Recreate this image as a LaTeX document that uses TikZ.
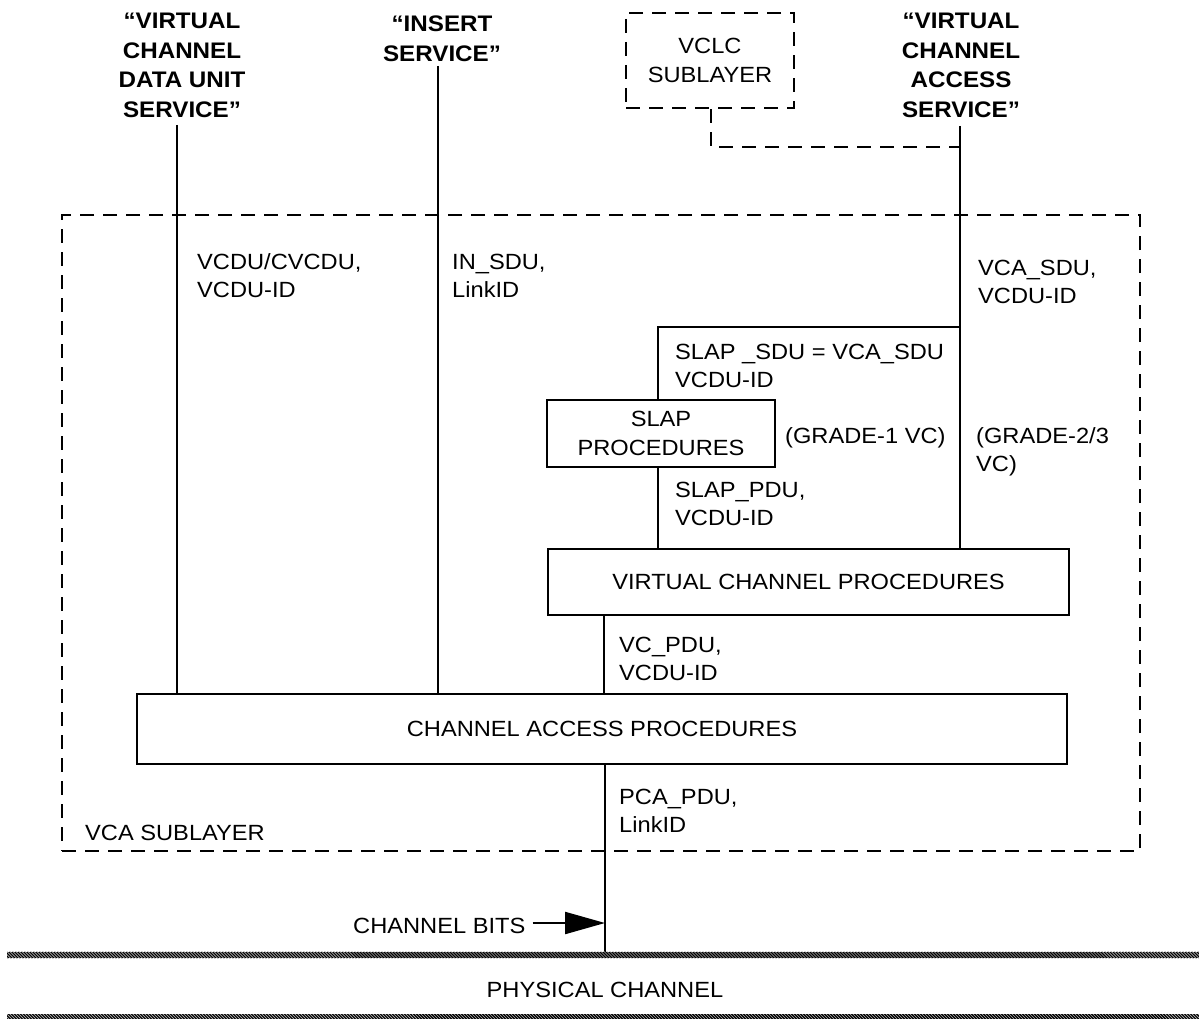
\documentclass[tikz,border=0pt]{standalone}
\usepackage{fontspec}
\setmainfont{Liberation Sans}[FakeStretch=1.075]
\usetikzlibrary{arrows.meta}

% text settings: plain labels and bold service names
\newcommand\lblfont{\fontsize{22}{28.5}\selectfont}
\newcommand\svcfont{\fontsize{22.5}{29.5}\selectfont\bfseries}

\tikzset{
  x=1pt, y=-1pt,
  wire/.style={line width=2.2pt},
  dashline/.style={line width=2.6pt, dash pattern=on 14pt off 9pt},
  procbox/.style={draw, line width=2.2pt, inner sep=0pt, font=\lblfont, align=center},
  layerbox/.style={draw, dashline, inner sep=0pt, font=\lblfont, align=center},
  lbl/.style={font=\lblfont, align=left, anchor=north west, inner sep=0pt},
  svc/.style={font=\svcfont, align=center, anchor=north, inner sep=0pt},
}

\begin{document}
\begin{tikzpicture}
\useasboundingbox (0,0) rectangle (1199,1019);

% service access points (bold titles)
\node[svc] (vcdus) at (182,8) {\strut“VIRTUAL\\CHANNEL\\DATA UNIT\\SERVICE”};
\node[svc] (inss)  at (442,11) {\strut“INSERT\\SERVICE”};
\node[svc] (vcas)  at (961,8) {\strut“VIRTUAL\\CHANNEL\\ACCESS\\SERVICE”};

% VCLC sublayer above
\node[layerbox, minimum width=168pt, minimum height=95pt] (vclc) at (710,60.5) {VCLC\\SUBLAYER};

% VCA sublayer frame
\node[layerbox, minimum width=1078pt, minimum height=636pt] (vcasub) at (601,533) {};
\node[lbl] (vcalbl) at (85,820) {\strut VCA SUBLAYER};

% procedure boxes
\node[procbox, minimum width=228pt, minimum height=67pt] (slap) at (661,433.5) {SLAP\\PROCEDURES};
\node[procbox, minimum width=521pt, minimum height=66pt] (vcp) at (808.5,582) {VIRTUAL CHANNEL PROCEDURES};
\node[procbox, minimum width=930pt, minimum height=70pt] (cap) at (602,729) {CHANNEL ACCESS PROCEDURES};

% connector anchor points
\coordinate (vcduTop) at (177,125);
\coordinate (insTop) at (438,66);
\coordinate (vcaTop) at (960,126);
\coordinate (vcaSlap) at (960,327);
\coordinate (slapTurn) at (658,327);
\coordinate (vclcTurn) at (711,147);
\coordinate (vclcJoin) at (960,147);
\coordinate (vcOut) at (604,615);
\coordinate (physTop) at (605,952);
\coordinate (bitsEnd) at (605,923);

% connectors
\draw[wire] (vcduTop) -- (vcduTop |- cap.north);
\draw[wire] (insTop) -- (insTop |- cap.north);
\draw[wire] (vcaTop) -- (vcaTop |- vcp.north);
\draw[wire] (vcaSlap) -- (slapTurn) -- (slapTurn |- slap.north);
\draw[wire] (slapTurn |- slap.south) -- (slapTurn |- vcp.north);
\draw[wire] (vcOut |- vcp.south) -- (vcOut |- cap.north);
\draw[wire] (physTop |- cap.south) -- (physTop);
\draw[dashline] (vclc.south -| vclcTurn) -- (vclcTurn) -- (vclcJoin);

% data unit labels
\node[lbl] (l1) at (197,249) {\strut VCDU/CVCDU,\\VCDU-ID};
\node[lbl] (l2) at (452,249) {\strut IN\_SDU,\\LinkID};
\node[lbl] (l3) at (978,255) {\strut VCA\_SDU,\\VCDU-ID};
\node[lbl] (l4) at (675,339) {\strut SLAP \_SDU = VCA\_SDU\\VCDU-ID};
\node[lbl] (l5) at (785,423) {\strut (GRADE-1 VC)};
\node[lbl] (l6) at (976,423) {\strut (GRADE-2/3\\VC)};
\node[lbl] (l7) at (675,477) {\strut SLAP\_PDU,\\VCDU-ID};
\node[lbl] (l8) at (619,632) {\strut VC\_PDU,\\VCDU-ID};
\node[lbl] (l9) at (619,784) {\strut PCA\_PDU,\\LinkID};

% channel bits arrow
\node[lbl] (cbits) at (353,913) {\strut CHANNEL BITS};
\draw[wire, -{Triangle[length=40pt, width=22pt]}] (cbits.east |- bitsEnd) ++(7,0) -- (bitsEnd);

% physical channel bands
\foreach \ya/\yb in {951.5/958, 1014/1019}{
  \begin{scope}
    \clip (7,\ya) rectangle (1199,\yb);
    \fill[black] (7,\ya) rectangle (1199,\yb);
    \foreach \i in {0,3,...,1200}
      \draw[white!70!black, line width=0.7pt] (\i,\ya-1) -- ++(9,9);
  \end{scope}
}
\node[font=\lblfont, inner sep=0pt, anchor=base] (phys) at (605,997) {PHYSICAL CHANNEL};

\end{tikzpicture}
\end{document}
